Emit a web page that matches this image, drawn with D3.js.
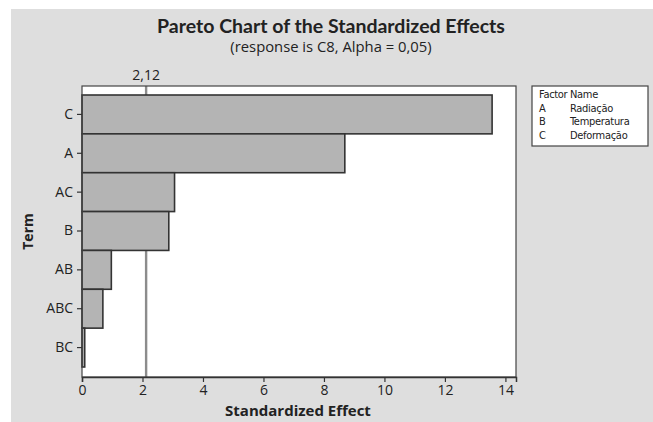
<!DOCTYPE html>
<html>
<head>
<meta charset="utf-8">
<script src="https://cdn.jsdelivr.net/npm/d3@7"></script>
<style>
	body { margin: 0; background: #fff; }
	text { font-family: "Open Sans", "DejaVu Sans", sans-serif; fill: #222; }
</style>
</head>
<body>
<svg id="chart"></svg>
<script>
// values
var terms = ["C", "A", "AC", "B", "AB", "ABC", "BC"];
var effects = [13.56, 8.69, 3.06, 2.87, 0.97, 0.69, 0.09];
var xTicks = [0, 2, 4, 6, 8, 10, 12, 14];
var critical = 2.12;
var criticalLabel = "2,12";
var factorLetters = ["A", "B", "C"];
var factorNames = ["Radiação", "Temperatura", "Deformação"];

function createPareto(output){

	var width = 653;
	var height = 422;
	var plot = {left: 82, top: 86, right: 516, bottom: 377};

	var svg = d3.select('#' + output).attr("width", width).attr("height", height);

	// grey frame
	svg.append("rect")
		.attr("x", 11).attr("y", 9)
		.attr("width", width - 11).attr("height", height - 9)
		.attr("fill", "#dedede");

	var x = d3.scaleLinear()
		.domain([0, 14.35])
		.range([plot.left, plot.right]);

	var y = d3.scaleBand()
		.domain(terms)
		.range([plot.top + 9, plot.bottom - 10])
		.padding(0);

	svg.append("rect")
		.attr("x", plot.left).attr("y", plot.top)
		.attr("width", plot.right - plot.left).attr("height", plot.bottom - plot.top)
		.attr("fill", "#fff");

	// reference line, sits behind the bars
	svg.append("line")
		.attr("x1", x(critical)).attr("x2", x(critical))
		.attr("y1", plot.top).attr("y2", plot.bottom)
		.attr("stroke", "#8c8c8c")
		.attr("stroke-width", 2.4);

	svg.append("text")
		.attr("x", x(critical))
		.attr("y", 80)
		.attr("text-anchor", "middle")
		.style("font-size", "14px")
		.text(criticalLabel);

	svg.append("g").attr("class", "bars")
		.selectAll("rect")
		.data(terms)
		.enter()
		.append("rect")
		.attr("x", x(0))
		.attr("y", function(d) { return y(d); })
		.attr("width", function(d, i) { return x(effects[i]) - x(0); })
		.attr("height", y.bandwidth())
		.attr("fill", "#b4b4b4")
		.attr("stroke", "#333")
		.attr("stroke-width", 1.6);

	svg.append("rect")
		.attr("x", plot.left).attr("y", plot.top)
		.attr("width", plot.right - plot.left).attr("height", plot.bottom - plot.top)
		.attr("fill", "none")
		.attr("stroke", "#444")
		.attr("stroke-width", 1.2);

	var xAxis = svg.append("g")
		.attr("transform", "translate(0," + plot.bottom + ")")
		.call(d3.axisBottom(x).tickValues(xTicks).tickSize(5).tickPadding(3));
	xAxis.select(".domain").attr("stroke", "#333").attr("stroke-width", 1.5);
	xAxis.selectAll(".tick line").attr("stroke", "#333").attr("stroke-width", 1.2);
	xAxis.selectAll("text").style("font-size", "14px").style("font-family", "'Open Sans', sans-serif").attr("fill", "#222");

	var yAxis = svg.append("g")
		.attr("transform", "translate(" + plot.left + ",0)")
		.call(d3.axisLeft(y).tickSize(5).tickPadding(4));
	yAxis.select(".domain").remove();
	yAxis.selectAll(".tick line").attr("stroke", "#333").attr("stroke-width", 1.2);
	yAxis.selectAll("text").style("font-size", "14px").style("font-family", "'Open Sans', sans-serif").attr("fill", "#222");

	// titles
	svg.append("text")
		.attr("x", 331).attr("y", 33)
		.attr("text-anchor", "middle")
		.style("font-family", "Lato, sans-serif")
		.style("font-size", "19.5px")
		.style("font-weight", "bold")
		.text("Pareto Chart of the Standardized Effects");

	svg.append("text")
		.attr("x", 331).attr("y", 52)
		.attr("text-anchor", "middle")
		.style("font-size", "14.8px")
		.text("(response is C8, Alpha = 0,05)");

	svg.append("text")
		.attr("x", 298).attr("y", 416)
		.attr("text-anchor", "middle")
		.style("font-size", "15px")
		.style("font-weight", "bold")
		.text("Standardized Effect");

	svg.append("text")
		.attr("transform", "translate(33," + ((plot.top + plot.bottom) / 2) + ") rotate(-90)")
		.attr("text-anchor", "middle")
		.style("font-size", "14px")
		.style("font-weight", "bold")
		.text("Term");

	// factor legend
	var legend = svg.append("g").attr("class", "legend");
	legend.append("rect")
		.attr("x", 532).attr("y", 86)
		.attr("width", 116).attr("height", 60)
		.attr("fill", "#fff")
		.attr("stroke", "#444")
		.attr("stroke-width", 1.2);

	var rows = [["Factor", "Name"]].concat(factorLetters.map(function(d, i) { return [d, factorNames[i]]; }));

	var row = legend.selectAll(".row")
		.data(rows)
		.enter().append("g")
		.attr("class", "row")
		.attr("transform", function(d, i) { return "translate(0," + (98 + i * 13.5) + ")"; });

	row.append("text")
		.attr("x", 539)
		.style("font-family", "'DejaVu Sans Condensed', 'Liberation Sans Narrow', sans-serif")
		.style("font-stretch", "condensed")
		.style("font-size", "11px")
		.style("letter-spacing", "-0.3px")
		.text(function(d) { return d[0]; });

	row.append("text")
		.attr("x", 570)
		.style("font-family", "'DejaVu Sans Condensed', 'Liberation Sans Narrow', sans-serif")
		.style("font-stretch", "condensed")
		.style("font-size", "11px")
		.style("letter-spacing", "-0.3px")
		.text(function(d) { return d[1]; });
}

createPareto("chart");
</script>
</body>
</html>
